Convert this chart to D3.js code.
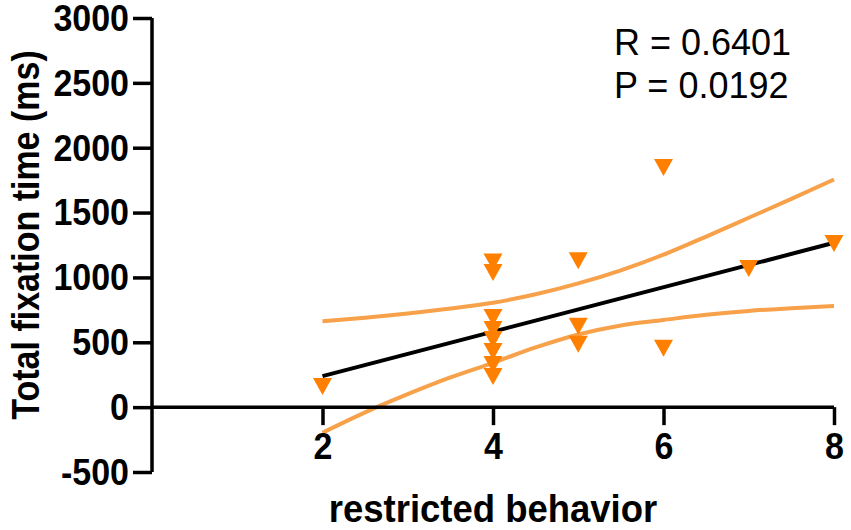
<!DOCTYPE html>
<html>
<head>
<meta charset="utf-8">
<script src="https://cdn.jsdelivr.net/npm/d3@7/dist/d3.min.js"></script>
<style>
  html, body { margin: 0; padding: 0; background: #fff; }
  svg { display: block; }
  text { font-family: "Liberation Sans", Arial, Helvetica, sans-serif; }
</style>
</head>
<body>
<svg id="chart" width="851" height="530"></svg>
<script>
// ---- data ----
const pointX = [2, 4, 4, 4, 4, 4, 4, 4, 4, 5, 5, 5, 6, 6, 7, 8];
const pointY = [160, 1119, 1038, 692, 599, 522, 429, 329, 237, 1129, 624, 485, 1848, 454, 1069, 1262];

const fitX = [2, 8];
const fitY = [239, 1267];

const bandX  = [2, 2.5, 3, 3.5, 4, 4.5, 5, 5.5, 6, 6.5, 7, 7.5, 8];
const upperY = [663, 690, 722, 760, 805, 870, 954, 1055, 1175, 1315, 1460, 1605, 1755];
const lowerY = [-197, -40, 100, 229, 342, 460, 560, 630, 672, 712, 742, 762, 779];

const xTicks = [2, 4, 6, 8];
const yTicks = [-500, 0, 500, 1000, 1500, 2000, 2500, 3000];

const xLabel = "restricted behavior";
const yLabel = "Total fixation time (ms)";
const statsText = ["R = 0.6401", "P = 0.0192"];

// ---- drawing ----
const svg = d3.select("#chart");
const x = d3.scaleLinear().domain([0, 8]).range([152, 834]);
const y = d3.scaleLinear().domain([-500, 3000]).range([472, 18]);

const bandColor = "#f7a14a";
const markColor = "#ff8000";
const fmt = d => String(d); // hyphen-minus like the reference

// confidence band curves
const bandLine = d3.line().curve(d3.curveMonotoneX);
svg.append("path")
  .attr("d", bandLine(bandX.map((d, i) => [x(d), y(upperY[i])])))
  .attr("fill", "none").attr("stroke", bandColor).attr("stroke-width", 4);
svg.append("path")
  .attr("d", bandLine(bandX.map((d, i) => [x(d), y(lowerY[i])])))
  .attr("fill", "none").attr("stroke", bandColor).attr("stroke-width", 4);

// regression line
svg.append("path")
  .attr("d", d3.line()(fitX.map((d, i) => [x(d), y(fitY[i])])))
  .attr("fill", "none").attr("stroke", "#000").attr("stroke-width", 4);

// axes
const yAxis = d3.axisLeft(y).tickValues(yTicks).tickSize(19).tickPadding(4).tickFormat(fmt);
const gy = svg.append("g").attr("transform", `translate(${x(0)},0)`).call(yAxis);
gy.select(".domain").attr("stroke-width", 3.5).attr("d", `M0,${y(-500)}V${y(3000)}`);
gy.selectAll(".tick line").attr("stroke-width", 3.5);
gy.selectAll(".tick text")
  .attr("font-size", 34).attr("font-weight", "bold").attr("fill", "#000")
  .attr("font-family", "Liberation Sans, Arial, sans-serif")
  .attr("dy", "0.33em")
  .attr("transform", "scale(1,1.1)");

const xAxis = d3.axisBottom(x).tickValues(xTicks).tickSize(18).tickPadding(6).tickFormat(fmt);
const gx = svg.append("g").attr("transform", `translate(0,${y(0)})`).call(xAxis);
gx.select(".domain").attr("stroke-width", 3.5).attr("d", `M${x(0)},0H${x(8)}`);
gx.selectAll(".tick line").attr("stroke-width", 3.5);
gx.selectAll(".tick text")
  .attr("font-size", 34).attr("font-weight", "bold").attr("fill", "#000")
  .attr("font-family", "Liberation Sans, Arial, sans-serif")
  .attr("transform", "scale(1,1.08)");

// points (downward triangles)
const tri = (cx, cy) => `M${cx - 9.5},${cy - 8.5}L${cx + 9.5},${cy - 8.5}L${cx},${cy + 8.5}Z`;
svg.append("g").selectAll("path")
  .data(pointX.map((d, i) => [d, pointY[i]]))
  .join("path")
  .attr("d", d => tri(x(d[0]), y(d[1])))
  .attr("fill", markColor);

// axis titles
svg.append("text")
  .attr("transform", "translate(39,235) rotate(-90) scale(1,1.12)")
  .attr("text-anchor", "middle")
  .attr("font-size", 34).attr("font-weight", "bold")
  .text(yLabel);
svg.append("text")
  .attr("transform", "translate(493,522) scale(1,1.05)")
  .attr("text-anchor", "middle")
  .attr("font-size", 36.5).attr("font-weight", "bold")
  .text(xLabel);

// stats
svg.append("text").attr("x", 614).attr("y", 55).attr("font-size", 36).text(statsText[0]);
svg.append("text").attr("x", 614).attr("y", 98).attr("font-size", 36).text(statsText[1]);
</script>
</body>
</html>
